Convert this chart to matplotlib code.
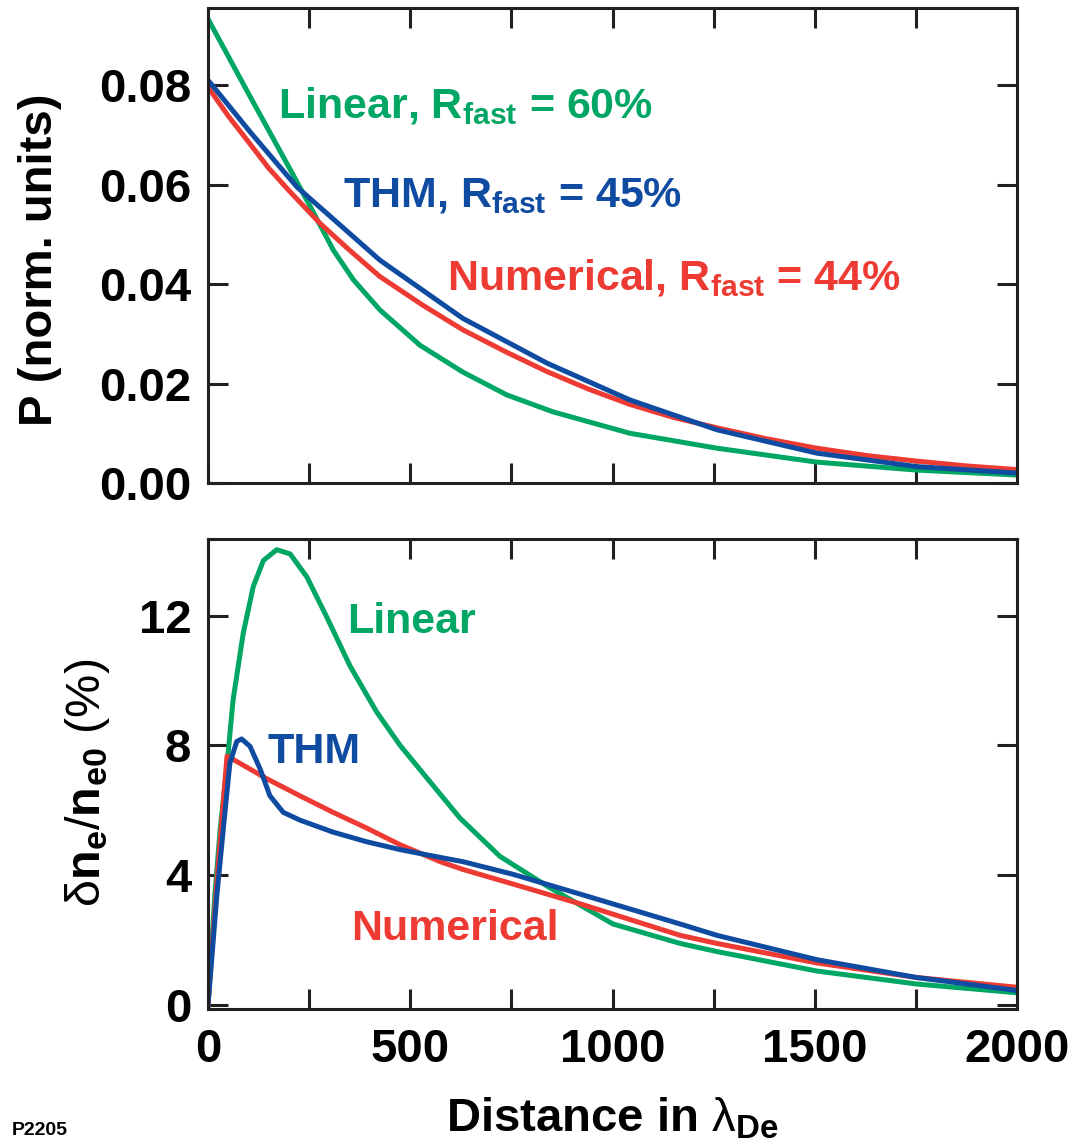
import matplotlib
matplotlib.use("Agg")
import matplotlib.pyplot as plt
from matplotlib.ticker import MultipleLocator, FixedLocator

# Power profile P vs distance (top panel)
x_lin_p = [0, 100, 200, 250, 310, 360, 425, 524, 630, 739, 853, 1043, 1258, 1505, 1752, 2000]
p_lin = [0.0933, 0.0783, 0.0635, 0.0560, 0.0468, 0.0408, 0.0348, 0.0277, 0.0223, 0.0177,
         0.0143, 0.0100, 0.0070, 0.0042, 0.0026, 0.0016]

x_thm_p = [0, 105, 220, 425, 630, 838, 1043, 1258, 1505, 1752, 2000]
p_thm = [0.0810, 0.0705, 0.0595, 0.0448, 0.0331, 0.0241, 0.0167, 0.0107, 0.0060, 0.0033, 0.0020]

x_num_p = [0, 50, 96, 150, 200, 277, 350, 425, 530, 630, 738, 838, 940, 1043, 1150, 1258, 1380,
           1505, 1630, 1752, 1880, 2000]
p_num = [0.0796, 0.0738, 0.0690, 0.0633, 0.0588, 0.0522, 0.0468, 0.0415, 0.0358, 0.0308,
         0.0263, 0.0224, 0.0189, 0.0158, 0.0132, 0.0111, 0.0089, 0.0070, 0.0055, 0.0044,
         0.0034, 0.0027]

# Density perturbation dn_e/n_e0 in % (bottom panel)
x_lin_n = [0, 17, 30, 47, 62, 87, 112, 137, 170, 203, 244, 293, 351, 417, 475, 541, 623, 722,
           838, 1001, 1167, 1258, 1505, 1752, 2000]
n_lin = [0, 3.4, 5.4, 7.4, 9.4, 11.45, 12.9, 13.7, 14.03, 13.9, 13.2, 11.97, 10.45, 9.03, 8.0,
         7.0, 5.76, 4.58, 3.67, 2.5, 1.9, 1.65, 1.05, 0.65, 0.38]

x_thm_n = [0, 22, 38, 54, 71, 83, 104, 129, 153, 186, 227, 309, 393, 475, 574, 630, 754, 920,
           1167, 1258, 1505, 1752, 2000]
n_thm = [0, 3.4, 5.45, 7.45, 8.12, 8.2, 7.97, 7.27, 6.45, 5.94, 5.7, 5.33, 5.03, 4.79, 4.55,
         4.42, 4.03, 3.42, 2.5, 2.15, 1.4, 0.85, 0.45]

x_num_n = [0, 22, 47, 62, 146, 227, 309, 393, 475, 574, 630, 754, 920, 1167, 1258, 1505, 1752, 2000]
n_num = [0, 3.8, 7.67, 7.57, 6.97, 6.45, 5.94, 5.45, 4.94, 4.42, 4.18, 3.73, 3.12, 2.15, 1.9,
         1.3, 0.85, 0.55]

GREEN = "#00A663"
BLUE = "#0F4CA1"
RED = "#ED3B33"
INK = "#231F20"

plt.rcParams["font.family"] = ["Liberation Sans", "DejaVu Sans"]
plt.rcParams["font.weight"] = "bold"
plt.rcParams["mathtext.fontset"] = "custom"
plt.rcParams["mathtext.rm"] = "Liberation Sans:regular"
plt.rcParams["mathtext.bf"] = "Liberation Sans:bold"
plt.rcParams["mathtext.it"] = "Liberation Sans:italic:regular"
plt.rcParams["mathtext.default"] = "regular"

fig = plt.figure(figsize=(10.72, 11.45), dpi=100)
W, H = 1072, 1145
ax1 = fig.add_axes([208 / W, 1 - 483 / H, 809 / W, 475 / H])
ax2 = fig.add_axes([208 / W, 1 - 1009 / H, 809 / W, 470 / H])

lw = 3.6
for ax in (ax1, ax2):
    for sp in ax.spines.values():
        sp.set_linewidth(2.2)
        sp.set_color(INK)
    ax.tick_params(which="both", direction="in", length=14.5, width=2.2, color=INK,
                   top=True, right=True, labelsize=34, pad=12)
    ax.set_xlim(0, 2000)

# top panel
ax1.plot(x_lin_p, p_lin, color=GREEN, lw=lw, solid_joinstyle="round")
ax1.plot(x_num_p, p_num, color=RED, lw=lw, solid_joinstyle="round")
ax1.plot(x_thm_p, p_thm, color=BLUE, lw=lw, solid_joinstyle="round")
ax1.set_ylim(0, 0.0955)
ax1.xaxis.set_major_locator(MultipleLocator(250))
ax1.yaxis.set_major_locator(FixedLocator([0, 0.02, 0.04, 0.06, 0.08]))
ax1.set_yticklabels(["0.00", "0.02", "0.04", "0.06", "0.08"])
ax1.tick_params(axis="x", labelbottom=False)
ax1.set_ylabel("P (norm. units)", fontsize=34, fontweight="bold")
ax1.yaxis.set_label_coords(-0.180, 0.469)

ax1.text(173, 0.0734, "Linear, $R_{fast}$ = 60%", color=GREEN, fontsize=31, va="baseline")
ax1.text(334, 0.0555, "THM, $R_{fast}$ = 45%", color=BLUE, fontsize=31, va="baseline")
ax1.text(591, 0.0388, "Numerical, $R_{fast}$ = 44%", color=RED, fontsize=31, va="baseline")

# bottom panel
ax2.plot(x_lin_n, n_lin, color=GREEN, lw=lw, solid_joinstyle="round")
ax2.plot(x_num_n, n_num, color=RED, lw=lw, solid_joinstyle="round")
ax2.plot(x_thm_n, n_thm, color=BLUE, lw=lw, solid_joinstyle="round")
ax2.set_ylim(-0.12, 14.36)
ax2.xaxis.set_major_locator(MultipleLocator(500))
ax2.xaxis.set_minor_locator(MultipleLocator(250))
ax2.yaxis.set_major_locator(FixedLocator([0, 4, 8, 12]))
ax2.tick_params(axis="x", pad=14)
ax2.set_ylabel(r"δ$\mathbf{n_e}$/$\mathbf{n_{e0}}$ (%)", fontsize=35, fontweight="normal")
ax2.yaxis.set_label_coords(-0.119, 0.481)
ax2.set_xlabel(r"Distance in $\mathrm{\lambda}_{De}$", fontsize=34, fontweight="bold")
ax2.xaxis.set_label_coords(0.5, -0.185)

ax2.text(344, 11.45, "Linear", color=GREEN, fontsize=31, va="baseline")
ax2.text(148, 7.45, "THM", color=BLUE, fontsize=31, va="baseline")
ax2.text(354, 2.0, "Numerical", color=RED, fontsize=31, va="baseline")

fig.text(12 / W, 1 - 1135 / H, "P2205", fontsize=14, va="baseline")

fig.savefig("out.png", dpi=100)
